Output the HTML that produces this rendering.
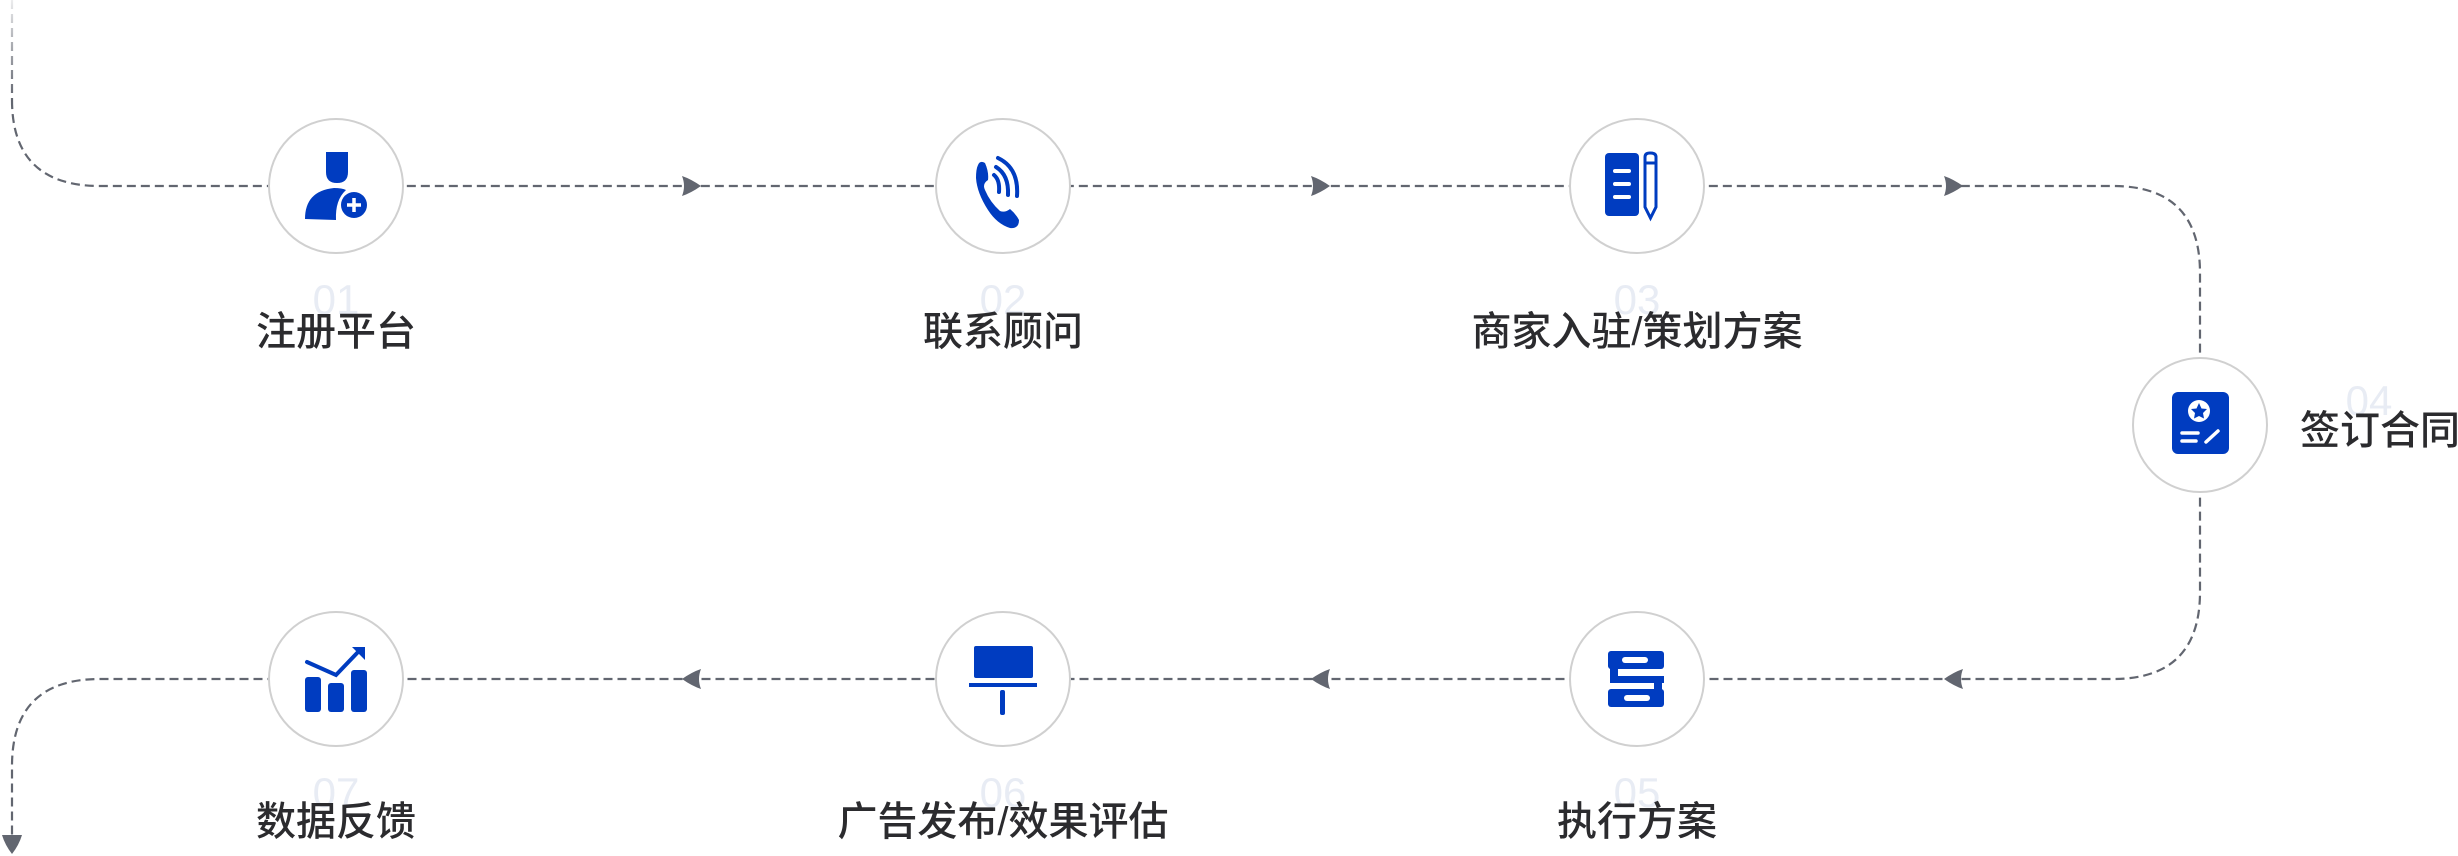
<!DOCTYPE html>
<html><head><meta charset="utf-8"><style>
html,body{margin:0;padding:0;background:#fff;}
body{width:2458px;height:856px;overflow:hidden;position:relative;font-family:"Liberation Sans","Noto Sans CJK SC",sans-serif;}
svg{position:absolute;left:0;top:0;}
</style></head><body>
<svg width="2458" height="856" viewBox="0 0 2458 856" xmlns="http://www.w3.org/2000/svg">
<defs>
<linearGradient id="fade" gradientUnits="userSpaceOnUse" x1="0" y1="0" x2="0" y2="100">
<stop offset="0" stop-color="#626670" stop-opacity="0.12"/>
<stop offset="0.4" stop-color="#626670" stop-opacity="0.5"/>
<stop offset="1" stop-color="#626670" stop-opacity="1"/>
</linearGradient>
</defs>
<g fill="none" stroke-width="2.2" stroke-dasharray="9 5">
<path d="M12 0 V100" stroke="url(#fade)"/>
<path d="M12 100 Q12 186 100 186 H2113 Q2200 186 2200 273 V592 Q2200 679 2113 679 H100 Q12 679 12 766 V838" stroke="#626670"/>
</g>
<g fill="#626670">
<path d="M682 176 Q691 179 701 186 Q691 193 682 196 Q686 186 682 176Z"/>
<path d="M1311 176 Q1320 179 1330 186 Q1320 193 1311 196 Q1315 186 1311 176Z"/>
<path d="M1944 176 Q1953 179 1963 186 Q1953 193 1944 196 Q1948 186 1944 176Z"/>
<path d="M701 669 Q692 672 682 679 Q692 686 701 689 Q697 679 701 669Z"/>
<path d="M1330 669 Q1321 672 1311 679 Q1321 686 1330 689 Q1326 679 1330 669Z"/>
<path d="M1963 669 Q1954 672 1944 679 Q1954 686 1963 689 Q1959 679 1963 669Z"/>
<path d="M2 835 H22 Q19 845 12 854 Q5 845 2 835Z"/>
</g>
<g fill="#fff" stroke="#d0d0d0" stroke-width="2">
<circle cx="336" cy="186" r="67"/><circle cx="1003" cy="186" r="67"/><circle cx="1637" cy="186" r="67"/>
<circle cx="2200" cy="425" r="67"/>
<circle cx="336" cy="679" r="67"/><circle cx="1003" cy="679" r="67"/><circle cx="1637" cy="679" r="67"/>
</g>
<g fill="#003cc0">
<path d="M326 152 H348 V172 Q348 183 337 183 Q326 183 326 172 Z"/>
<path d="M305 219 Q305 191 334 188 Q342 188 346 190 Q335 200 336 220 Z"/>
<circle cx="354" cy="205" r="13"/>
</g>
<path d="M354 198 V212 M347 205 H361" stroke="#fff" stroke-width="3.5"/>
<g fill="#003cc0">
<path d="M978 165 Q980 160 985 163 Q989 172 988 180 Q982 184 985 190 Q990 202 1000 211 Q1005 213 1010 209 Q1016 214 1019 220 Q1019 229 1010 228 Q997 224 988 210 Q977 193 976 178 Q976 169 978 165Z"/>
</g>
<g fill="none" stroke="#003cc0" stroke-width="4" stroke-linecap="round">
<path d="M994 175 Q1000 180 999 192"/>
<path d="M996 167 Q1009 175 1008 195"/>
<path d="M998 158 Q1019 168 1017 196"/>
</g>
<rect x="1605" y="153" width="34" height="63" rx="4" fill="#003cc0"/>
<g stroke="#fff" stroke-width="4" stroke-linecap="round"><path d="M1615 171 H1629 M1615 184 H1629 M1615 197 H1629"/></g>
<path d="M1645 157 Q1645 153 1650 153 Q1656 153 1656 157 V207 L1650.5 218 L1645 207 Z" fill="none" stroke="#003cc0" stroke-width="3"/>
<path d="M1645 163 H1656" stroke="#003cc0" stroke-width="3"/>
<rect x="2172" y="392" width="57" height="62" rx="6" fill="#003cc0"/>
<circle cx="2199" cy="411" r="11" fill="#fff"/>
<path d="M2199 403 L2201.5 408.5 L2207 409 L2203 413 L2204 418.5 L2199 416 L2194 418.5 L2195 413 L2191 409 L2196.5 408.5 Z" fill="#003cc0"/>
<g stroke="#fff" stroke-width="3.5" stroke-linecap="round"><path d="M2182 433 H2198 M2182 441 H2196 M2206 442 L2218 431"/></g>
<g fill="#003cc0">
<rect x="1608" y="651" width="56" height="18" rx="3"/>
<rect x="1608" y="689" width="56" height="18" rx="3"/>
<rect x="1610" y="664" width="8" height="18"/>
<rect x="1610" y="676" width="54" height="7"/>
<rect x="1654" y="676" width="8" height="18"/>
</g>
<g fill="#fff"><rect x="1622" y="657" width="26" height="6" rx="3"/><rect x="1624" y="695" width="26" height="6" rx="3"/></g>
<rect x="974" y="646" width="59" height="32" rx="2" fill="#003cc0"/>
<rect x="969" y="683" width="68" height="4" fill="#003cc0"/>
<rect x="1000" y="690" width="5" height="25" rx="2" fill="#003cc0"/>
<g fill="#003cc0">
<rect x="305" y="677" width="16" height="35" rx="3"/>
<rect x="328" y="683" width="16" height="29" rx="3"/>
<rect x="351" y="670" width="16" height="42" rx="3"/>
</g>
<path d="M307 662 L336 675 L359 651" fill="none" stroke="#003cc0" stroke-width="4" stroke-linecap="round"/>
<path d="M352 647 H365 V660 Z" fill="#003cc0"/>
<g fill="#e8ecf4" font-family="Liberation Sans, sans-serif" font-size="42" text-anchor="middle">
<text x="336" y="314">01</text><text x="1003" y="314">02</text><text x="1637" y="314">03</text>
<text x="2369" y="415">04</text>
<text x="1637" y="807">05</text><text x="1003" y="807">06</text><text x="336" y="807">07</text>
</g>
<g fill="#2b2b2e" font-family="Liberation Sans, Noto Sans CJK SC, sans-serif" font-size="40" font-weight="500" text-anchor="middle">
<text x="336" y="345">注册平台</text><text x="1003" y="345">联系顾问</text><text x="1637" y="345">商家入驻/策划方案</text>
<text x="2380" y="444">签订合同</text>
<text x="1637" y="835">执行方案</text><text x="1003" y="835">广告发布/效果评估</text><text x="336" y="835">数据反馈</text>
</g>
</svg>
</body></html>
